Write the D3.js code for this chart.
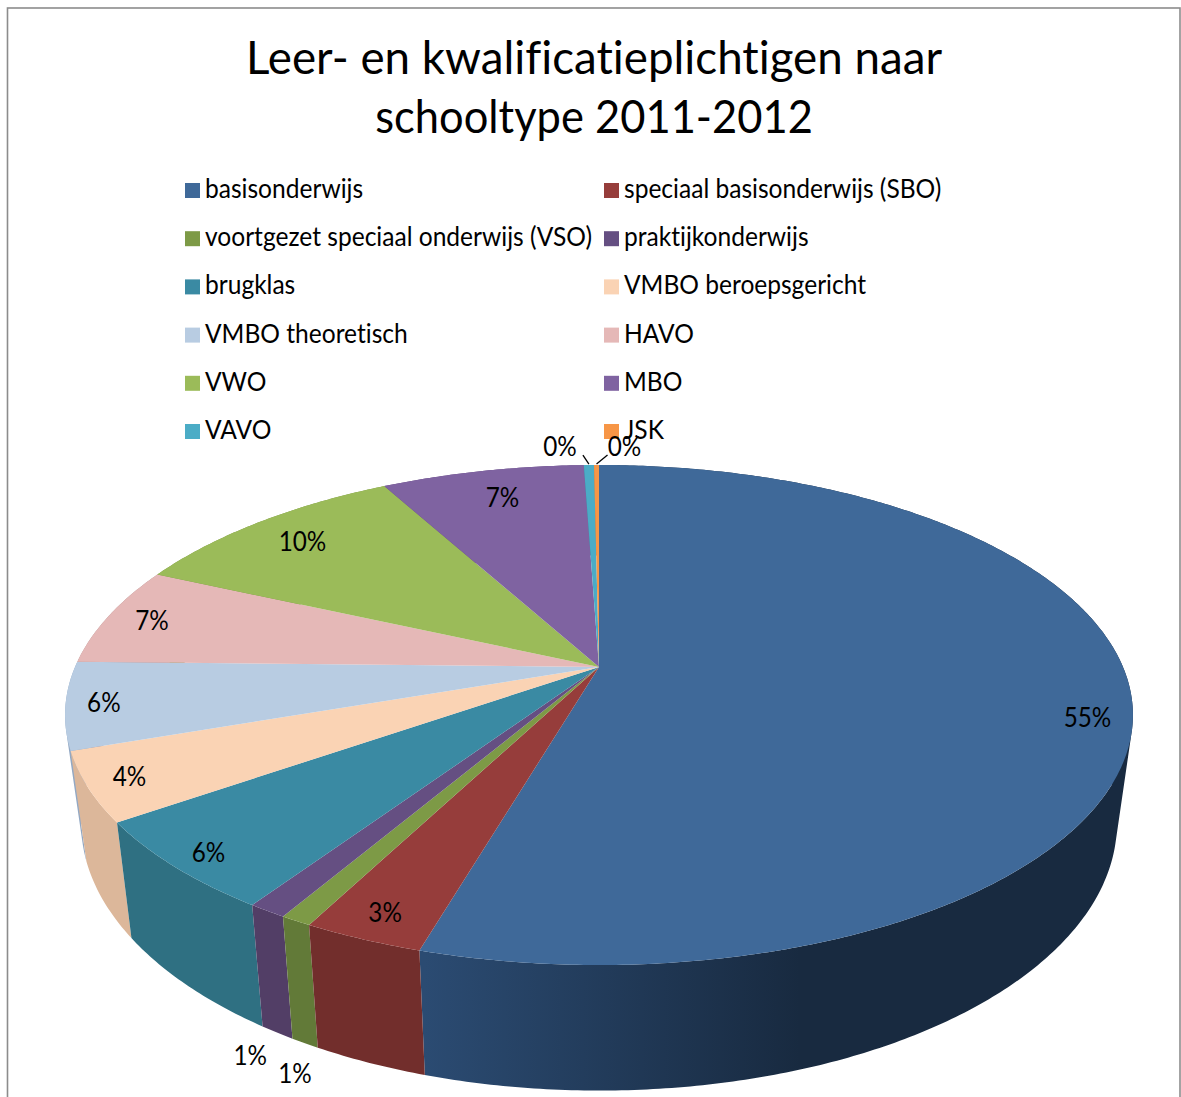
<!DOCTYPE html>
<html>
<head>
<meta charset="utf-8">
<script src="https://cdn.jsdelivr.net/npm/d3@7"></script>
<style>
    body { margin: 0; background: #fff; }
    text { font-family: Lato, sans-serif; fill: #000; font-variant-ligatures: none; }
</style>
</head>
<body>
<svg></svg>
<script>
// Chart values
const categories = ["basisonderwijs", "speciaal basisonderwijs (SBO)", "voortgezet speciaal onderwijs (VSO)",
    "praktijkonderwijs", "brugklas", "VMBO beroepsgericht", "VMBO theoretisch", "HAVO", "VWO", "MBO", "VAVO", "JSK"];
const shares = [54.52, 3.08, 0.8, 1.0, 5.87, 4.45, 5.65, 6.45, 10.25, 7.4, 0.37, 0.18];
const labels = ["55%", "3%", "1%", "1%", "6%", "4%", "6%", "7%", "10%", "7%", "0%", "0%"];
const topColors = ["#3f6999", "#963d3b", "#7d9a46", "#654f82", "#3a8aa3", "#fad3b4",
    "#b8cce2", "#e5b8b7", "#9bbb59", "#7f63a1", "#4bacc6", "#f79646"];
const sideColors = ["url(#blueSide)", "#722e2c", "#627a38", "#523e66", "#2f7082", "#dcb79a",
    "#92a8c4", "#b09090", "#7a9345", "#63497f", "#3a8599", "#c0732f"];

const width = 1181, height = 1097;

const svg = d3.select("svg").attr("width", width).attr("height", height);

// Blue side gets darker to the right
const grad = svg.append("defs").append("linearGradient")
    .attr("id", "blueSide")
    .attr("gradientUnits", "userSpaceOnUse")
    .attr("x1", 425).attr("x2", 800).attr("y1", 0).attr("y2", 0);
grad.append("stop").attr("offset", 0).attr("stop-color", "#2b4b72");
grad.append("stop").attr("offset", 1).attr("stop-color", "#182a40");

// Chart frame, runs off the bottom of the image
svg.append("rect")
    .attr("x", 7.5).attr("y", 8)
    .attr("width", 1172.5).attr("height", 1200)
    .attr("fill", "none").attr("stroke", "#8c8c8c").attr("stroke-width", 1.6);

// Title, the two lines need a slightly different squeeze with this font
const titleLines = ["Leer- en kwalificatieplichtigen naar", "schooltype 2011-2012"];
const titleSqueeze = [0.973, 0.925];
svg.selectAll(".title")
    .data(titleLines)
    .join("text")
    .attr("class", "title")
    .attr("text-anchor", "middle")
    .attr("font-size", 47)
    .attr("transform", (d, i) => `translate(594, ${74 + i * 59}) scale(${titleSqueeze[i]}, 1)`)
    .text(d => d);

// Legend, two columns
const color = d3.scaleOrdinal().domain(categories).range(topColors);
const legendRow = d3.scalePoint()
    .domain(d3.range(Math.ceil(categories.length / 2)))
    .range([189, 430]);
const legendCol = d3.scalePoint().domain([0, 1]).range([185, 604]);

const legend = svg.selectAll(".legend")
    .data(categories)
    .join("g")
    .attr("class", "legend")
    .attr("transform", (d, i) => `translate(${legendCol(i % 2)}, ${legendRow(Math.floor(i / 2))})`);
legend.append("rect")
    .attr("y", -6).attr("width", 15).attr("height", 15)
    .attr("fill", d => color(d));
legend.append("text")
    .attr("transform", "translate(20, 9) scale(0.91, 1)")
    .attr("font-size", 27)
    .text(d => d);

// Perspective projection of the pie disc
const apexX = 599, apexY = 667;
const R = 524, S = 240.8, k = 0.192;
const depthX = 0.97, depthYScale = 1.07, depthYShift = 58;

function project(angle, r = 1) {
    const u = r * Math.sin(angle), v = -r * Math.cos(angle);
    const w = 1 - k * v;
    return [apexX + R * u / w, apexY + S * v / w];
}
function projectBottom(angle) {
    const [x, y] = project(angle);
    return [apexX + (x - apexX) * depthX, y * depthYScale + depthYShift];
}
function arcAngles(d) {
    const n = Math.max(2, Math.ceil((d.endAngle - d.startAngle) / 0.01));
    return d3.range(n + 1).map(i => d.startAngle + (d.endAngle - d.startAngle) * i / n);
}

const pie = d3.pie().sort(null).value(d => d);
const slices = pie(shares);
const line = d3.line();
const midAngle = d => (d.startAngle + d.endAngle) / 2;

// One small quad per step so the outline follows the tangent at the left and right edge.
// All quads get the same winding, otherwise overlaps cancel out at the fold
function sidePath(d) {
    const angles = arcAngles(d);
    return d3.pairs(angles).map(([a, b]) => {
        const quad = [project(a), project(b), projectBottom(b), projectBottom(a)];
        if (d3.polygonArea(quad) < 0) quad.reverse();
        return line(quad) + "Z";
    }).join("");
}

// Sides first, back to front, the top faces cover whatever is behind them
svg.selectAll(".side")
    .data(slices.slice().sort((a, b) => -Math.cos(midAngle(a)) - -Math.cos(midAngle(b))))
    .join("path")
    .attr("class", "side")
    .attr("fill", d => sideColors[d.index])
    .attr("d", sidePath);

svg.selectAll(".top")
    .data(slices)
    .join("path")
    .attr("class", "top")
    .attr("fill", d => topColors[d.index])
    .attr("d", d => line([[apexX, apexY]].concat(arcAngles(d).map(a => project(a)))) + "Z");

// Data labels. Most sit inside the rim, the thin slices are pulled outside
const outside = {
    2: [-10, 40],
    3: [-27, 32],
    10: [-29, -9],
    11: [28, -9]
};
const labelRadius = [0.92, 0.92, 0, 0, 0.93, 0.925, 0.93, 0.905, 0.86, 0.84];
const labelShift = {0: [-1, 19], 4: [0, 2], 7: [-2, 1], 8: [0, 2], 9: [4, 0]};

svg.selectAll(".label")
    .data(slices)
    .join("text")
    .attr("class", "label")
    .attr("text-anchor", "middle")
    .attr("font-size", 27)
    .attr("transform", d => {
        const off = outside[d.index];
        let p;
        if (off) {
            const base = d.index < 5 ? projectBottom(midAngle(d)) : project(midAngle(d));
            p = [base[0] + off[0], base[1] + off[1]];
        } else {
            const shift = labelShift[d.index] || [0, 0];
            p = project(midAngle(d), labelRadius[d.index]);
            p = [p[0] + shift[0], p[1] + 9 + shift[1]];
        }
        return `translate(${p[0]}, ${p[1]}) scale(0.9, 1)`;
    })
    .text(d => labels[d.index]);

// Leader lines for the two 0% labels
svg.selectAll(".leader")
    .data(slices.filter(d => d.index >= 10))
    .join("line")
    .attr("class", "leader")
    .attr("stroke", "#000").attr("stroke-width", 1.3)
    .attr("x1", d => project(midAngle(d))[0])
    .attr("y1", d => project(midAngle(d))[1] - 1)
    .attr("x2", d => project(midAngle(d))[0] + (d.index === 10 ? -6 : 11))
    .attr("y2", d => project(midAngle(d))[1] - 10);
</script>
</body>
</html>
